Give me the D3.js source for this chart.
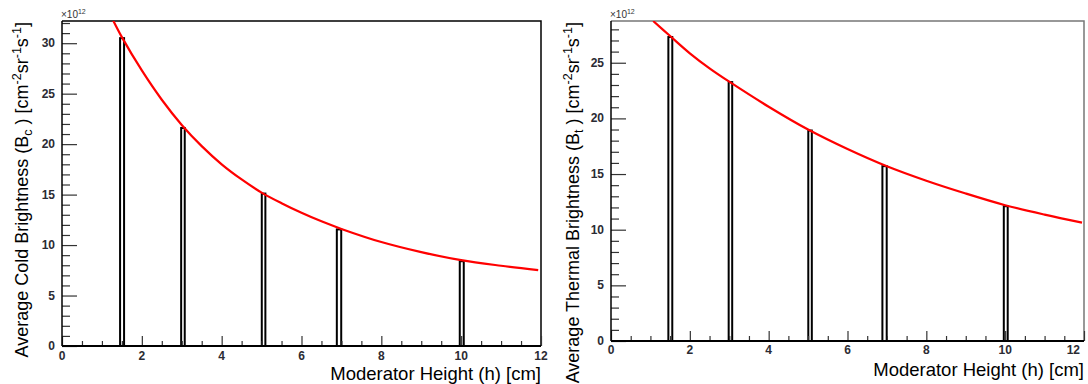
<!DOCTYPE html>
<html>
<head>
<meta charset="utf-8">
<script src="https://cdn.jsdelivr.net/npm/d3@7"></script>
<style>
  html, body { margin: 0; padding: 0; background: #fff; }
  svg { display: block; font-family: "Liberation Sans", Arial, sans-serif; }
</style>
</head>
<body>
<svg id="chart" width="1088" height="384"></svg>
<script>
// ---- data ----
const xTickValues = [0, 2, 4, 6, 8, 10, 12];
const coldYTicks = [0, 5, 10, 15, 20, 25, 30];
const thermalYTicks = [0, 5, 10, 15, 20, 25];

// histogram bars (moderator heights), bin edges in cm
const barLow  = [1.43, 2.96, 4.98, 6.86, 9.94];
const barHigh = [1.58, 3.10, 5.12, 7.02, 10.09];
const coldBars    = [30.6, 21.7, 15.2, 11.65, 8.5];
const thermalBars = [27.4, 23.35, 19.0, 15.8, 12.2];

// red fitted curves (h [cm], brightness x1e12)
const coldCurveH = [1.2, 1.5, 2, 2.5, 3, 3.5, 4, 4.5, 5, 5.5, 6, 6.5, 7, 8, 9, 10, 11, 11.93];
const coldCurveB = [32.9, 30.6, 27.3, 24.4, 21.9, 19.8, 18.0, 16.5, 15.2, 14.15, 13.2, 12.35, 11.6, 10.3, 9.3, 8.5, 7.95, 7.52];
const thermalCurveH = [1.07, 1.5, 2, 2.5, 3, 4, 5, 6, 7, 8, 9, 10, 11, 11.95];
const thermalCurveB = [28.75, 27.4, 25.85, 24.5, 23.3, 21.05, 19.0, 17.25, 15.7, 14.4, 13.25, 12.2, 11.35, 10.63];

const svg = d3.select("#chart");

function drawPanel(cfg) {
  const g = svg.append("g");
  const x = d3.scaleLinear().domain([0, 12]).range([cfg.x0, cfg.x1]);
  const y = d3.scaleLinear().domain([0, cfg.yMax]).range([cfg.yBottom, cfg.yTop]);

  const clipId = "clip" + cfg.id;
  svg.append("clipPath").attr("id", clipId).append("rect")
    .attr("x", cfg.x0).attr("y", cfg.yTop)
    .attr("width", cfg.x1 - cfg.x0).attr("height", cfg.yBottom - cfg.yTop);

  // frame (top and right)
  g.append("path")
    .attr("d", `M${cfg.x0},${cfg.yTop}H${cfg.x1}V${cfg.yBottom}`)
    .attr("fill", "none").attr("stroke", cfg.frameColor).attr("stroke-width", 1.5);

  // bars
  g.append("g").selectAll("rect").data(cfg.bars).join("rect")
    .attr("x", (d, i) => x(barLow[i]) + 1)
    .attr("width", (d, i) => x(barHigh[i]) - x(barLow[i]) - 2)
    .attr("y", d => y(d) + 1)
    .attr("height", d => y(0) - y(d) - 1)
    .attr("fill", "#fff").attr("stroke", "#000").attr("stroke-width", 2);

  // curve
  const pts = cfg.curveH.map((h, i) => [h, cfg.curveB[i]]);
  g.append("path").datum(pts)
    .attr("clip-path", `url(#${clipId})`)
    .attr("d", d3.line().x(d => x(d[0])).y(d => y(d[1])).curve(d3.curveCatmullRom.alpha(0.5)))
    .attr("fill", "none").attr("stroke", "#ff0000").attr("stroke-width", 2.2);

  // x axis: major ticks
  const xAxis = d3.axisTop(x).tickValues(xTickValues).tickSize(10).tickFormat("");
  const xa = g.append("g").attr("transform", `translate(0,${cfg.yBottom})`).call(xAxis);
  xa.select(".domain").remove();
  xa.selectAll("line").attr("stroke", "#333").attr("stroke-width", 1.2);
  // minor x ticks
  const xMinor = d3.range(0.5, 12, 0.5).filter(v => v % 2 !== 0);
  const xam = g.append("g").attr("transform", `translate(0,${cfg.yBottom})`)
    .call(d3.axisTop(x).tickValues(xMinor).tickSize(5).tickFormat(""));
  xam.select(".domain").remove();
  xam.selectAll("line").attr("stroke", "#333").attr("stroke-width", 1.2);

  // x labels
  g.append("g").selectAll("text").data(xTickValues).join("text")
    .attr("x", d => Math.min(x(d), cfg.maxLabelX)).attr("y", cfg.yBottom + cfg.xLabelDy)
    .attr("text-anchor", d => x(d) > cfg.maxLabelX ? "end" : "middle")
    .attr("font-size", 12).attr("font-weight", "bold").attr("fill", "#2b2b33")
    .text(d => d);

  // y axis major
  const ya = g.append("g").attr("transform", `translate(${cfg.x0},0)`)
    .call(d3.axisRight(y).tickValues(cfg.yTicks).tickSize(15).tickFormat(""));
  ya.select(".domain").remove();
  ya.selectAll("line").attr("stroke", "#333").attr("stroke-width", 1.2);
  const yMinor = d3.range(1, Math.floor(cfg.yMax) + 1).filter(v => v % 5 !== 0);
  const yam = g.append("g").attr("transform", `translate(${cfg.x0},0)`)
    .call(d3.axisRight(y).tickValues(yMinor).tickSize(8).tickFormat(""));
  yam.select(".domain").remove();
  yam.selectAll("line").attr("stroke", "#333").attr("stroke-width", 1.2);

  g.append("g").selectAll("text").data(cfg.yTicks).join("text")
    .attr("x", cfg.x0 - 7).attr("y", d => y(d) + 4)
    .attr("text-anchor", "end")
    .attr("font-size", 12).attr("font-weight", "bold").attr("fill", "#2b2b33")
    .text(d => d);

  // axis lines
  g.append("line").attr("x1", cfg.x0).attr("x2", cfg.x1)
    .attr("y1", cfg.yBottom).attr("y2", cfg.yBottom)
    .attr("stroke", "#000").attr("stroke-width", 2);
  g.append("line").attr("x1", cfg.x0).attr("x2", cfg.x0)
    .attr("y1", cfg.yTop).attr("y2", cfg.yBottom)
    .attr("stroke", "#000").attr("stroke-width", 1.5);

  // exponent
  const ex = g.append("text").attr("x", cfg.x0 - 1).attr("y", cfg.yTop - 3)
    .attr("font-size", 10).attr("fill", "#333");
  ex.append("tspan").text("\u00d710");
  ex.append("tspan").attr("dy", -4).attr("font-size", 7).text("12");

  // x title
  g.append("text").attr("x", cfg.x1).attr("y", cfg.xTitleY)
    .attr("text-anchor", "end").attr("font-size", 18.5).attr("fill", "#000")
    .text("Moderator Height (h) [cm]");

  // y title
  const yt = g.append("text")
    .attr("transform", `translate(${cfg.yTitleX},${cfg.yTop + 1}) rotate(-90)`)
    .attr("text-anchor", "end").attr("font-size", 18).attr("fill", "#000");
  yt.append("tspan").text(cfg.yTitleMain + " (B");
  yt.append("tspan").attr("dy", 4).attr("font-size", 12.5).text(cfg.sub);
  yt.append("tspan").attr("dy", -4).text(" ) [cm");
  yt.append("tspan").attr("dy", -7).attr("font-size", 12.5).text("-2");
  yt.append("tspan").attr("dy", 7).text("sr");
  yt.append("tspan").attr("dy", -7).attr("font-size", 12.5).text("-1");
  yt.append("tspan").attr("dy", 7).text("s");
  yt.append("tspan").attr("dy", -7).attr("font-size", 12.5).text("-1");
  yt.append("tspan").attr("dy", 7).text("]");
}

drawPanel({
  id: "L", x0: 62, x1: 541, yTop: 21, yBottom: 346, yMax: 32.2,
  yTicks: coldYTicks, bars: coldBars, curveH: coldCurveH, curveB: coldCurveB,
  frameColor: "#000", xLabelDy: 14, xTitleY: 380, yTitleX: 28, maxLabelX: 1000,
  yTitleMain: "Average Cold Brightness", sub: "c"
});
drawPanel({
  id: "R", x0: 611, x1: 1084, yTop: 21, yBottom: 341, yMax: 28.75,
  yTicks: thermalYTicks, bars: thermalBars, curveH: thermalCurveH, curveB: thermalCurveB,
  frameColor: "#777", xLabelDy: 13, xTitleY: 376, yTitleX: 579, maxLabelX: 1080,
  yTitleMain: "Average Thermal Brightness", sub: "t"
});
</script>
</body>
</html>
